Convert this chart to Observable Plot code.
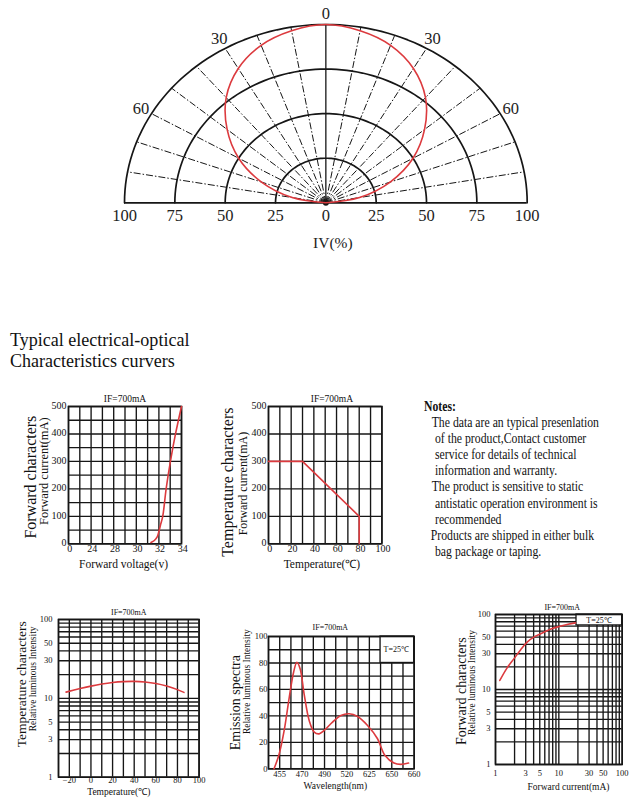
<!DOCTYPE html>
<html><head><meta charset="utf-8">
<script src="https://cdn.jsdelivr.net/npm/d3@7"></script>
<script src="https://cdn.jsdelivr.net/npm/@observablehq/plot@0.6"></script>
<style>
body{margin:0;background:#fff;}
#page{position:relative;width:640px;height:800px;overflow:hidden;background:#fff;}
</style></head><body><div id="page"></div>
<script>
// ---------- DATA ----------
// Polar radiation pattern (angle in degrees, relative intensity %)
const polarAngles    = [-90,-80,-70,-60,-50,-40,-30,-20,-10,0,10,20,30,40,50,60,70,80,90];
const polarIntensity = [0,17,34,50,64,77,87,94,98,100,98,94,87,77,64,50,34,17,0];
const polarRings = [25,50,75,100];
const polarSpokes = [-80,-70,-60,-50,-40,-30,-20,-10,10,20,30,40,50,60,70,80];
const polarAngleLabels = [-60,-30,0,30,60];
const polarRadialTicks = [-100,-75,-50,-25,0,25,50,75,100];

// Forward characters: voltage (V) vs current (mA)
const fcTicks = [0,24,28,30,32,34];
const fcYTicks = [0,100,200,300,400,500];
const fcVolt = [31.3,31.6,31.85,32.0,32.15,32.34,32.64,33.02,33.47,34.0];
const fcCurr = [5,12,25,45,70,100,200,300,400,500];

// Temperature characters: temperature vs forward current
const tcTicks = [0,20,40,60,80,100];
const tcYTicks = [0,100,200,300,400,500];
const tcTemp = [0,30,80,80];
const tcCurr = [300,300,100,0];

// Temperature characters: temperature vs relative luminous intensity (log)
const tlTicks = [-20,0,20,40,60,80,100];
const tlYTicks = [1,3,5,10,30,50,100];
const tlTemp = [-23,-10,0,10,20,30,40,50,60,70,80,86];
const tlInt  = [12.0,13.3,14.3,15.2,15.9,16.3,16.4,16.1,15.4,14.3,12.9,11.9];

// Emission spectra
const specTicks = [455,470,490,520,625,650,660];
const specYTicks = [0,20,40,60,80,100];
const specWl  = [451.2,454.6,458,461.4,464.3,466.5,468.7,471.8,476.3,480.8,485.2,489.7,500.7,511.9,530.5,569.9,616.6,634.1,642.5,651,654,657.5];
const specInt = [0,11,29,54,73,80.5,75.5,56.5,36.5,27.7,26.4,29,35.3,40.3,41.6,39.5,32.7,22.7,10,4.3,3.3,4.3];

// Forward characters: forward current vs relative luminous intensity (log-log)
const flTicks = [1,3,5,10,30,50,100];
const flYTicks = [1,3,5,10,30,50,100];
const flCurr = [1.17,1.5,1.95,2.5,3.16,4.2,5.8,7.5,10,14,18.3];
const flInt  = [13.2,19,25.6,34,42.8,51,58,64,69,74,77.4];

const logGrid = [1,2,3,4,5,6,7,8,9,10,20,30,40,50,60,70,80,90,100];

const noteLines = [
  {t:"The data are an typical presenlation", i:1},
  {t:"of the product,Contact customer", i:2},
  {t:"service for details of technical", i:2},
  {t:"information and warranty.", i:2},
  {t:"The product is sensitive to static", i:1},
  {t:"antistatic operation environment is", i:2},
  {t:"recommended", i:2},
  {t:"Products are shipped in either bulk", i:0},
  {t:"bag package or taping.", i:2}
];
const titleLines = ["Typical electrical-optical","Characteristics curvers"];

// ---------- STYLE ----------
const SERIF = '"Liberation Serif","Times New Roman",serif';
const INK = "#161616", RED = "#dc3a3e";
const page = document.getElementById("page");
const rad = a => a * Math.PI / 180;

// ---------- POLAR ----------
{
  const ringPts = polarRings.flatMap(r => d3.range(-90, 90.01, 2).map(a => ({r, a})));
  const curve = polarAngles.map((a, i) => ({a, v: polarIntensity[i]}));
  const H = 262, cx0 = 124, cx1 = 526.7, yb = 202.3, yt = 24;
  const fig = Plot.plot({
    width: 640, height: H,
    marginLeft: cx0, marginRight: 640 - cx1, marginTop: yt, marginBottom: H - yb,
    style: {fontFamily: SERIF, fontSize: "16.5px", color: "#222", background: "transparent", overflow: "visible"},
    x: {domain: [-100, 100], axis: null},
    y: {domain: [0, 100], axis: null},
    marks: [
      Plot.link(polarSpokes, {x1: 0, y1: 0, x2: a => 100 * Math.sin(rad(a)), y2: a => 100 * Math.cos(rad(a)),
        stroke: INK, strokeWidth: 1, strokeDasharray: "7,2,1.5,2"}),
      Plot.ruleX([0], {y1: 0, y2: 100, stroke: INK, strokeWidth: 1.3}),
      Plot.line(ringPts, {x: d => d.r * Math.sin(rad(d.a)), y: d => d.r * Math.cos(rad(d.a)), z: "r",
        stroke: INK, strokeWidth: 1.7}),
      Plot.ruleY([0], {stroke: INK, strokeWidth: 1.7}),
      Plot.dot([0], {x: 0, y: 0, r: 3, fill: INK}),
      Plot.line(curve, {x: d => d.v * Math.sin(rad(d.a)), y: d => d.v * Math.cos(rad(d.a)),
        curve: "catmull-rom", stroke: RED, strokeWidth: 1.6}),
      Plot.text(polarAngleLabels, {x: a => 106 * Math.sin(rad(a)), y: a => 106 * Math.cos(rad(a)),
        text: a => Math.abs(a), fill: "#222"}),
      Plot.text(polarRadialTicks, {x: d => d, y: 0, dy: 13, text: d => Math.abs(d), fill: "#222"}),
      Plot.text(["IV(%)"], {frameAnchor: "bottom", dy: 45, dx: 7, text: d => d, fill: "#222", fontSize: 15.5, letterSpacing: "1px"})
    ]
  });
  fig.style.position = "absolute"; fig.style.left = "0px"; fig.style.top = "0px";
  page.appendChild(fig);
}

// ---------- PANELS ----------
function panel(o) {
  const ml = 70, mr = 24, mt = 30, mb = 40;
  const W = ml + o.w + mr, H = mt + o.h + mb;
  const x = Object.assign({label: null, tickSize: 0}, o.x);
  if (o.xFrac) x.range = o.xFrac.map(f => ml + f * o.w);
  const y = Object.assign({label: null, tickSize: 0}, o.y);
  if (o.tickText) { x.axis = null; y.axis = null; }
  const grid = {stroke: INK, strokeWidth: 1.35};
  const marks = [
    Plot.ruleX(o.gridX, grid),
    Plot.ruleY(o.gridY, grid)
  ];
  if (o.box) {
    marks.push(Plot.rect([0], {x1: o.box.x1, x2: o.box.x2, y1: o.box.y1, y2: o.box.y2, fill: "white", stroke: INK, strokeWidth: 1.3}));
    marks.push(Plot.text([o.box.label], {x: o.box.tx, y: o.box.ty, text: d => d, fontSize: o.box.fs, fill: "#111"}));
  }
  marks.push(
    Plot.frame({stroke: INK, strokeWidth: 1.6}),
    Plot.line(o.data, {x: "x", y: "y", stroke: RED, strokeWidth: 1.6, curve: o.curve || "catmull-rom"}),
    Plot.text(["IF=700mA"], {frameAnchor: "top", dx: o.ifd[0], dy: o.ifd[1], text: d => d, fontSize: o.ifFs, lineAnchor: "middle", textAnchor: "middle", fill: "#111"}),
    Plot.text([o.t1], {frameAnchor: "left", dx: o.t1d[0], dy: o.t1d[1], rotate: -90, text: d => d, fontSize: o.t1Fs, textAnchor: "middle", lineAnchor: "middle", fill: "#111"}),
    Plot.text([o.t2], {frameAnchor: "left", dx: o.t2d[0], dy: o.t2d[1], rotate: -90, text: d => d, fontSize: o.t2Fs, textAnchor: "middle", lineAnchor: "middle", fill: "#111"}),
    Plot.text([o.xl], {frameAnchor: "bottom", dx: o.xld[0], dy: o.xld[1], text: d => d, fontSize: o.xlFs, textAnchor: "middle", lineAnchor: "middle", fill: "#111"})
  );
  if (o.tickText) {
    const t = o.tickText;
    marks.push(
      Plot.text(o.x.ticks, {x: d => d, frameAnchor: "bottom", lineAnchor: "top", textAnchor: "middle", dx: t.xdx, dy: t.xdy, text: d => d, fontSize: o.tickFs, fill: "#111"}),
      Plot.text(o.y.ticks, {y: d => d, frameAnchor: "left", lineAnchor: "middle", textAnchor: "end", dx: t.ydx, dy: t.ydy, text: d => d, fontSize: o.tickFs, fill: "#111"})
    );
  }
  const fig = Plot.plot({
    width: W, height: H, marginLeft: ml, marginRight: mr, marginTop: mt, marginBottom: mb,
    style: {fontFamily: SERIF, fontSize: o.tickFs + "px", color: "#111", background: "transparent", overflow: "visible"},
    x, y, marks
  });
  fig.style.position = "absolute";
  fig.style.left = (o.left - ml) + "px";
  fig.style.top = (o.top - mt) + "px";
  page.appendChild(fig);
}

const mid = t => t.slice(1).map((v, i) => (v + t[i]) / 2);
const zip = (a, b) => a.map((x, i) => ({x, y: b[i]}));

// Forward characters (V-I)
panel({
  left: 68, top: 406, w: 113, h: 137.3,
  x: {type: "linear", domain: fcTicks, ticks: fcTicks},
  xFrac: fcTicks.map((_, i) => i / (fcTicks.length - 1)),
  y: {domain: [0, 500], ticks: fcYTicks},
  tickText: {xdx: 1.2, xdy: 1, ydx: -2, ydy: -1},
  gridX: fcTicks.concat(mid(fcTicks)),
  gridY: d3.range(0, 501, 50),
  data: zip(fcVolt, fcCurr),
  tickFs: 10,
  ifd: [0, -8], ifFs: 9.5,
  t1: "Forward characters", t1d: [-37.3, 2], t1Fs: 16,
  t2: "Forward current(mA)", t2d: [-25, -4], t2Fs: 12.5,
  xl: "Forward voltage(v)", xld: [-1.5, 20.7], xlFs: 11.5
});

// Temperature characters (T-I)
panel({
  left: 268.3, top: 406, w: 113.4, h: 137.3,
  x: {domain: [0, 100], ticks: tcTicks},
  y: {domain: [0, 500], ticks: tcYTicks},
  tickText: {xdx: 1.2, xdy: 1, ydx: -2, ydy: -1},
  gridX: d3.range(0, 101, 10),
  gridY: tcYTicks,
  data: zip(tcTemp, tcCurr), curve: "linear",
  tickFs: 10,
  ifd: [6.7, -8], ifFs: 9.5,
  t1: "Temperature characters", t1d: [-40.3, 7], t1Fs: 16,
  t2: "Forward current(mA)", t2d: [-25.3, 8.4], t2Fs: 12,
  xl: "Temperature(\u2103)", xld: [-3.3, 20.7], xlFs: 11.5
});

// Temperature characters (T - relative luminous intensity)
panel({
  left: 57.7, top: 619, w: 140.6, h: 157.7,
  x: {domain: [-30, 100], ticks: tlTicks, tickPadding: 0},
  y: {type: "log", domain: [1, 100], ticks: tlYTicks, tickFormat: d => d, tickPadding: 6},
  gridX: d3.range(-30, 101, 10),
  gridY: logGrid,
  data: zip(tlTemp, tlInt),
  tickFs: 8.5,
  ifd: [0, -7], ifFs: 8,
  t1: "Temperature characters", t1d: [-37, -14], t1Fs: 13.5,
  t2: "Relative luminous Intensity", t2d: [-26, -19.5], t2Fs: 9.5,
  xl: "Temperature(\u2103)", xld: [-10, 15], xlFs: 9.5
});

// Emission spectra
panel({
  left: 268.3, top: 636, w: 145.7, h: 132.3,
  x: {type: "linear", domain: specTicks, ticks: specTicks, tickFormat: d => d, tickPadding: 2},
  xFrac: specTicks.map((_, i) => (2 * i + 1) / (2 * specTicks.length - 1)),
  y: {domain: [0, 100], ticks: specYTicks, tickPadding: 1},
  gridX: specTicks.concat(mid(specTicks), [specTicks[0] - (specTicks[1] - specTicks[0]) / 2]),
  gridY: d3.range(0, 101, 10),
  data: zip(specWl, specInt),
  tickFs: 8.5,
  box: {x1: 637.5, x2: 660, y1: 80, y2: 100, tx: 652, ty: 90, label: "T=25\u2103", fs: 8},
  ifd: [-11, -9.3], ifFs: 8,
  t1: "Emission spectra", t1d: [-33.3, 0], t1Fs: 14,
  t2: "Relative luminous Intensity", t2d: [-21.6, -21], t2Fs: 9.5,
  xl: "Wavelength(nm)", xld: [-6, 16.7], xlFs: 9.5
});

// Forward characters (I - relative luminous intensity)
panel({
  left: 495, top: 614, w: 126.7, h: 150,
  x: {type: "log", domain: [1, 100], ticks: flTicks, tickFormat: d => d, tickPadding: 5},
  y: {type: "log", domain: [1, 100], ticks: flYTicks, tickFormat: d => d, tickPadding: 5},
  gridX: logGrid,
  gridY: logGrid,
  data: zip(flCurr, flInt),
  tickFs: 8.5,
  box: {x1: 19, x2: 100, y1: 71.5, y2: 100, tx: 43, ty: 84.5, label: "T=25\u2103", fs: 8},
  ifd: [3.4, -7.3], ifFs: 8,
  t1: "Forward characters", t1d: [-34.3, 1.7], t1Fs: 14,
  t2: "Relative luminous Intensity", t2d: [-23.3, -7], t2Fs: 9.5,
  xl: "Forward current(mA)", xld: [9.7, 22.7], xlFs: 9.5
});

// ---------- TEXT OVERLAY (title + notes) ----------
{
  const svg = d3.select(page).append("svg")
    .attr("width", 640).attr("height", 800)
    .style("position", "absolute").style("left", "0px").style("top", "0px")
    .style("pointer-events", "none").style("overflow", "visible")
    .attr("font-family", SERIF).attr("fill", "#111");
  svg.selectAll("text.title").data(titleLines).join("text")
    .attr("class", "title")
    .attr("transform", (d, i) => `translate(10,${345.5 + i * 21}) scale(0.96,1)`)
    .attr("font-size", 18.8).text(d => d);
  svg.append("text").attr("transform", "translate(424,411) scale(0.84,1)")
    .attr("font-size", 14).attr("font-weight", "bold").text("Notes:");
  const indent = [430.7, 431.7, 435];
  svg.selectAll("text.note").data(noteLines).join("text")
    .attr("class", "note")
    .attr("transform", (d, i) => `translate(${indent[d.i]},${427 + i * 16.1}) scale(0.84,1)`)
    .attr("font-size", 14).text(d => d.t);
}
</script>
</body></html>
